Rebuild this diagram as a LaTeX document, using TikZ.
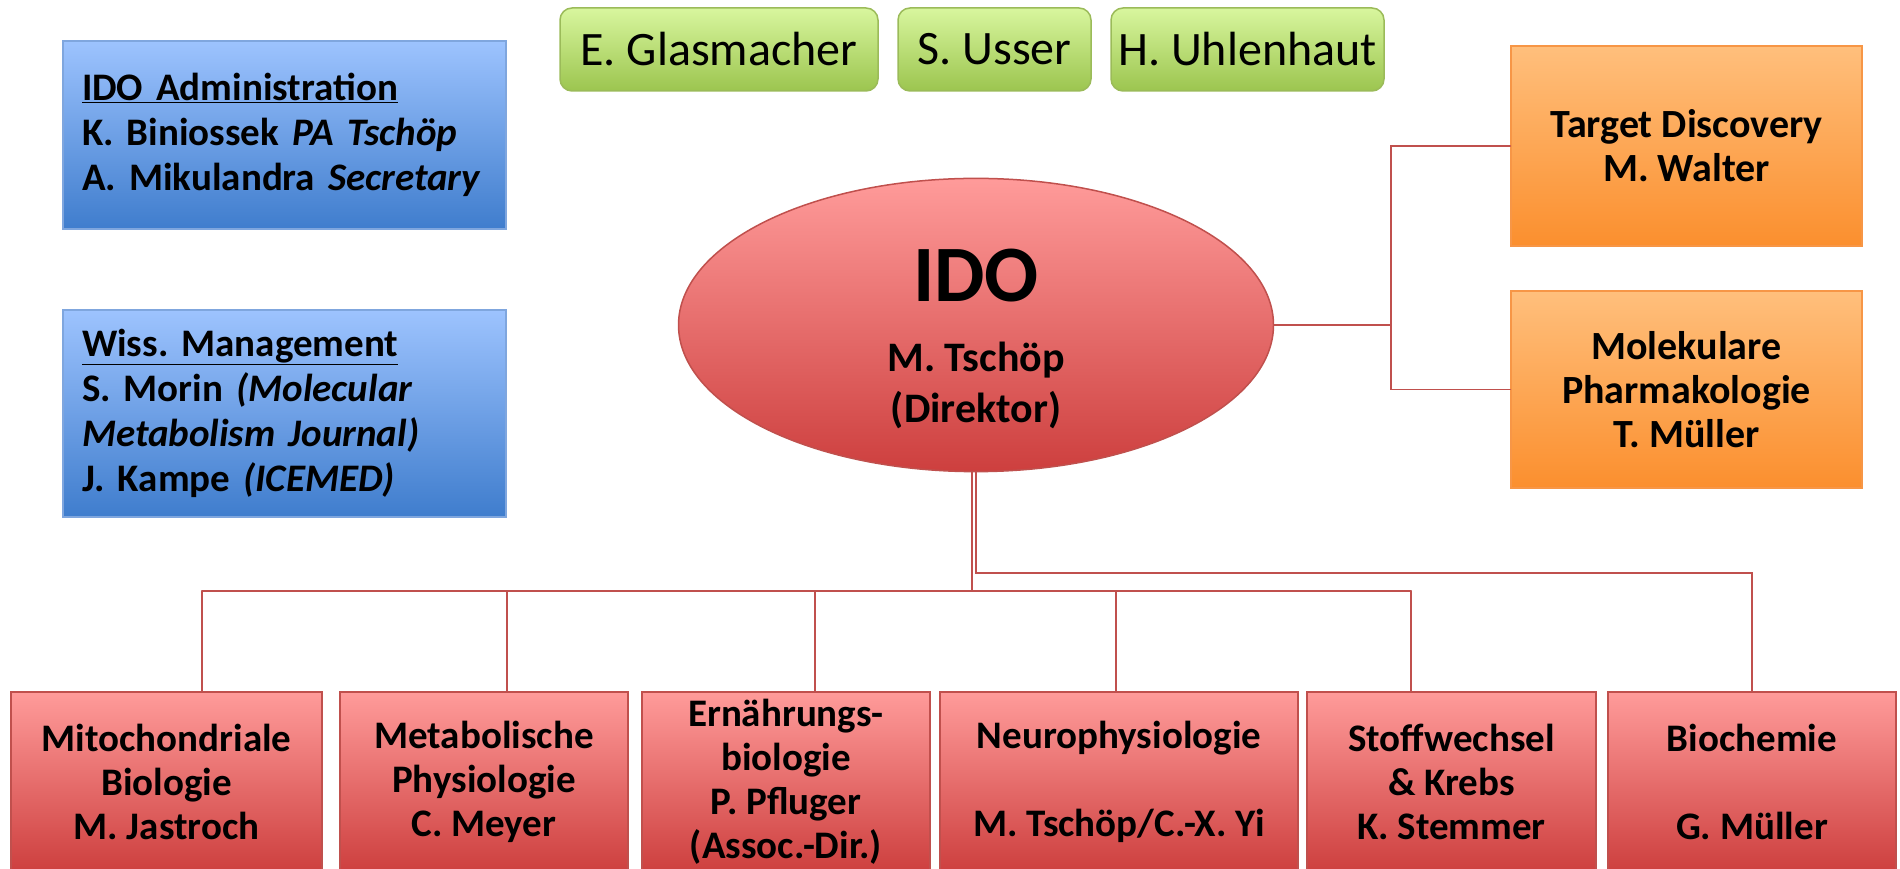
\documentclass[tikz,border=0pt]{standalone}
\usepackage{fontspec}
\setmainfont{Carlito}
\usepackage{tikz}
\usetikzlibrary{shapes.geometric}
\frenchspacing
\definecolor{redtop}{HTML}{FF9B9A}
\definecolor{redbot}{HTML}{CD3F3E}
\definecolor{redline}{HTML}{C0504D}
\definecolor{bluetop}{HTML}{9DC3FE}
\definecolor{bluebot}{HTML}{3F7DCD}
\definecolor{blueline}{HTML}{7FA6DE}
\definecolor{greentop}{HTML}{D8F69E}
\definecolor{greenbot}{HTML}{9CC54F}
\definecolor{greenline}{HTML}{9BBB59}
\definecolor{orangetop}{HTML}{FFBF7C}
\definecolor{orangebot}{HTML}{FB8F2E}
\definecolor{orangeline}{HTML}{F79646}

\begin{document}
\begin{tikzpicture}[x=1pt,y=1pt,line cap=round,
  link/.style={draw=redline,line width=1.6pt},
  deptbox/.style={draw=redline,line width=1.5pt,top color=redtop,bottom color=redbot,
    minimum height=180pt,inner sep=0pt,align=center,font=\fontsize{39}{44}\selectfont\bfseries},
  groupbox/.style={draw=orangeline,line width=1.5pt,top color=orangetop,bottom color=orangebot,
    minimum width=351pt,inner sep=0pt,align=center,font=\fontsize{40}{44}\selectfont\bfseries},
  staffbox/.style={draw=blueline,line width=1.5pt,top color=bluetop,bottom color=bluebot,
    text width=405pt,inner xsep=19pt,inner ysep=0pt,align=left,font=\fontsize{39}{45}\selectfont\bfseries},
  guestbox/.style={draw=greenline,line width=1.5pt,top color=greentop,bottom color=greenbot,
    rounded corners=12pt,minimum height=83pt,inner sep=0pt,font=\fontsize{48}{56}\selectfont}]
\useasboundingbox (0,0) rectangle (1900,868);

% guests
\node[guestbox,minimum width=318pt] (g1) at (719,818.5) {E. Glasmacher};
\node[guestbox,minimum width=193pt] (g2) at (994.5,818.5) {S. Usser};
\node[guestbox,minimum width=273pt] (g3) at (1247.5,818.5) {H. Uhlenhaut};

% staff
\node[staffbox,minimum height=188pt] (adm) at (284.5,733)
  {\underline{IDO Administration}\\K. Biniossek \textit{PA Tschöp}\\A. Mikulandra \textit{Secretary}};
\node[staffbox,minimum height=207pt] (mgmt) at (284.5,454.5)
  {\underline{Wiss. Management}\\S. Morin \textit{(Molecular}\\\textit{Metabolism Journal)}\\J. Kampe \textit{(ICEMED)}};

% director
\node[ellipse,draw=redline,line width=1.5pt,top color=redtop,bottom color=redbot,
  minimum width=595pt,minimum height=217pt,inner sep=0pt,align=center,
  font=\fontsize{42}{51}\selectfont\bfseries] (ido) at (976,543)
  {\rule{0pt}{80pt}{\fontsize{80}{80}\selectfont IDO}\\[19pt]M. Tschöp\\(Direktor)};

% research groups
\node[groupbox,minimum height=200pt] (td) at (1686.5,722) {Target Discovery\\M. Walter};
\node[groupbox,minimum height=197pt] (mp) at (1686.5,478.5) {Molekulare\\Pharmakologie\\T. Müller};

% departments
\node[deptbox,minimum width=311pt] (d1) at (166.5,86) {Mitochondriale\\Biologie\\M. Jastroch};
\node[deptbox,minimum width=288pt] (d2) at (484,86) {Metabolische\\Physiologie\\C. Meyer};
\node[deptbox,minimum width=288pt] (d3) at (786,86) {Ernährungs-\\biologie\\P. Pfluger\\(Assoc.-Dir.)};
\node[deptbox,minimum width=358pt] (d4) at (1119,86) {Neurophysiologie\\~\\M. Tschöp/C.-X. Yi};
\node[deptbox,minimum width=289pt] (d5) at (1451.5,86) {Stoffwechsel\\\& Krebs\\K. Stemmer};
\node[deptbox,minimum width=288pt] (d6) at (1752,86) {Biochemie\\~\\G. Müller};

% connectors
\coordinate (jl) at (972,277);
\coordinate (ju) at (976,295);
\foreach \x [count=\i] in {202,507,815,1116,1411}
  \coordinate (j\i) at (\x,277);
\draw[link] (ido.south -| jl) -- (jl);
\draw[link] (j1) -- (j5);
\foreach \i in {1,...,5}
  \draw[link] (j\i) -- (j\i |- d\i.north);
\draw[link] (ido.south) -- (ju) -- (ju -| d6.north) -- (d6.north);

\coordinate (rj) at (1391,543);
\draw[link] (ido.east) -- (rj);
\draw[link] (td.west) -- (td.west -| rj) -- (mp.west -| rj) -- (mp.west);
\end{tikzpicture}
\end{document}
